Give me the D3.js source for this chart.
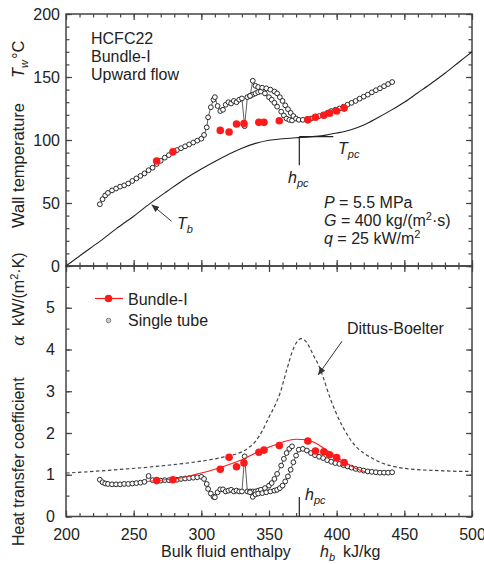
<!DOCTYPE html>
<html><head><meta charset="utf-8">
<script src="https://cdn.jsdelivr.net/npm/d3@7"></script>
<style>
body{margin:0;background:#fff;}
svg{font-family:"Liberation Sans",Arial,Helvetica,sans-serif;}
</style></head><body>
<svg id="c" width="484" height="564"></svg>
<script>
// ---------- DATA ----------
const xTicksMajor = [200,250,300,350,400,450,500];
const yTopTicks = [0,50,100,150,200];
const yBotTicks = [0,1,2,3,4,5];

// bulk temperature curve T_b
const tbH = [200,212,225,237,250,262,275,287,300,310,320,330,340,350,360,370,380,390,400,410,420,430,440,450,460,470,480,490,500];
const tbT = [0,9.5,19.5,29.5,39.5,49.5,59.5,68.5,77,83,88.5,93.5,97.3,99.8,101,101.8,102.5,103.5,105.5,108,112,117.5,123.5,130,137.5,145,153,161.5,170];

// single tube, run 1
const tube1H = [225,227,229,231,234,237,240,243,246,249,252,255,258,261,264,267,270,273,276,279,282,285,288,291,294,297,300,
  302,304,305,307,309,310,312,314,316,318,320,322,324,326,328,330,332,334,336,338,340,342,344,347,350,352,354,356,359,361,363,365,367];
const tube1T = [49,53,56,58,60,61.5,63,64,65.5,67.5,69.5,71.5,73.5,76,78,81,83.5,86,88,90,92,93.5,95,96.5,98,99.5,101,
  104,110,118,126,132,134,127,123,124,128,130,129,131,130,132,133,111,134,135,136,137,138,138.5,137,134,132,129.5,126.5,122.5,119.5,117,116,115.5];
const tube1A = [0.88,0.82,0.79,0.78,0.77,0.77,0.77,0.78,0.78,0.79,0.8,0.81,0.83,0.97,0.87,0.86,0.86,0.87,0.87,0.88,0.88,0.9,0.91,0.92,0.93,0.94,0.95,
  0.9,0.78,0.66,0.55,0.47,0.46,0.58,0.65,0.65,0.6,0.62,0.64,0.6,0.62,0.6,0.6,1.44,0.6,0.6,0.6,0.6,0.62,0.64,0.68,0.74,0.8,0.9,1.02,1.22,1.38,1.52,1.62,1.68];

// single tube, run 2
const tube2H = [336,338,340,342,345,348,351,354,356,358,360,362,364,366,368,370,372,375,378,381,384,387,390,393,396,399,402,405,408,411,414,417,420,423,426,429,432,435,438,441];
const tube2T = [135,147,143,142,141.5,141,140,138.5,137,134,131,127.5,124.5,121.5,119,117,116,116,116.5,117,118,119,120,121.5,123,124,125,126.4,128,129.5,131,132.8,134.4,136,137.8,139.5,141,142.7,144.4,146];
const tube2A = [0.58,0.47,0.53,0.55,0.56,0.58,0.6,0.62,0.64,0.68,0.74,0.84,0.96,1.12,1.3,1.46,1.6,1.62,1.58,1.52,1.47,1.43,1.4,1.35,1.31,1.28,1.26,1.23,1.2,1.17,1.14,1.12,1.1,1.08,1.07,1.06,1.05,1.05,1.05,1.06];

// Bundle-I
const bundleH = [267,279,314,320.5,326,331.5,342.5,346.3,357.6,378.7,384.3,390.5,394.8,400,405.5];
const bundleT = [83.3,90.7,107.6,106.3,112.7,113,114,114,115.3,116,118,119.6,121.3,123,125.3];
const bundleA = [0.86,0.88,1.13,1.42,1.19,1.28,1.54,1.59,1.7,1.81,1.57,1.55,1.48,1.41,1.29];

// Bundle-I fitted line
const fitH = [260,270,280,290,300,310,320,330,340,350,360,370,378,385,392,400,408,415,421];
const fitA = [0.84,0.87,0.9,0.96,1.04,1.13,1.24,1.36,1.52,1.66,1.78,1.85,1.84,1.75,1.6,1.42,1.26,1.14,1.07];

// Dittus-Boelter
const dbH = [200,220,245,270,294,310,320,330,335,340,345,350,355,358,363,368,371,374,377,380,383,387,390,395,400,405,410,415,420,426,432,445,457,475,494,500];
const dbA = [1.04,1.08,1.14,1.21,1.3,1.38,1.45,1.55,1.65,1.8,2.05,2.38,2.7,2.94,3.5,4.02,4.2,4.26,4.2,4.05,3.85,3.6,3.34,2.85,2.45,2.12,1.85,1.65,1.52,1.4,1.3,1.18,1.13,1.1,1.08,1.08];

const hpc = 372.4, Tpc = 102.6;

// ---------- SCALES ----------
const svg = d3.select("#c");
const x = d3.scaleLinear().domain([200,500]).range([66,472]);
const yT = d3.scaleLinear().domain([0,200]).range([266,14]);
const yB = d3.scaleLinear().domain([0,6]).range([516.5,266]);
const zip = (a,b)=>a.map((v,i)=>[v,b[i]]);
const AX = "#444", TXT = "#222";

const defs = svg.append("defs");
defs.append("marker").attr("id","arr").attr("viewBox","0 0 10 10").attr("refX",9).attr("refY",5)
  .attr("markerWidth",8).attr("markerHeight",8).attr("markerUnits","userSpaceOnUse").attr("orient","auto")
  .append("path").attr("d","M0,1 L10,5 L0,9 z").attr("fill","#333");

// ---------- AXES ----------
function ax(gen, tr){
  const g = svg.append("g").attr("transform",tr).call(gen);
  g.select(".domain").remove();
  g.selectAll("line").attr("stroke",AX).attr("stroke-width",1.2);
  g.selectAll("text").attr("fill",TXT).attr("font-size",16).attr("font-family","Liberation Sans, Arial, sans-serif");
  return g;
}
const none = () => "";
const fmt = d3.format("d");
// top panel
ax(d3.axisLeft(yT).tickValues(yTopTicks).tickSize(-6).tickPadding(6).tickFormat(fmt), "translate(66,0)");
ax(d3.axisLeft(yT).tickValues(d3.range(0,201,10)).tickSize(-3.5).tickFormat(none), "translate(66,0)");
ax(d3.axisRight(yT).tickValues(yTopTicks).tickSize(-6).tickFormat(none), "translate(472,0)");
ax(d3.axisRight(yT).tickValues(d3.range(0,201,10)).tickSize(-3.5).tickFormat(none), "translate(472,0)");
ax(d3.axisTop(x).tickValues(xTicksMajor).tickSize(-6).tickFormat(none), "translate(0,14)");
ax(d3.axisTop(x).tickValues(d3.range(200,501,10)).tickSize(-3.5).tickFormat(none), "translate(0,14)");
ax(d3.axisBottom(x).tickValues(xTicksMajor).tickSize(-6).tickFormat(none), "translate(0,266)");
ax(d3.axisBottom(x).tickValues(d3.range(200,501,10)).tickSize(-3.5).tickFormat(none), "translate(0,266)");
// bottom panel
ax(d3.axisLeft(yB).tickValues(yBotTicks).tickSize(-6).tickPadding(11).tickFormat(fmt), "translate(66,0)");
ax(d3.axisLeft(yB).tickValues(d3.range(0,6.01,0.5)).tickSize(-3.5).tickFormat(none), "translate(66,0)");
ax(d3.axisRight(yB).tickValues(yBotTicks.concat([6])).tickSize(-6).tickFormat(none), "translate(472,0)");
ax(d3.axisRight(yB).tickValues(d3.range(0,6.01,0.5)).tickSize(-3.5).tickFormat(none), "translate(472,0)");
ax(d3.axisTop(x).tickValues(xTicksMajor).tickSize(-6).tickFormat(none), "translate(0,266)");
ax(d3.axisTop(x).tickValues(d3.range(200,501,10)).tickSize(-3.5).tickFormat(none), "translate(0,266)");
ax(d3.axisBottom(x).tickValues(xTicksMajor).tickSize(-6).tickPadding(12).tickFormat(fmt), "translate(0,516.5)");
ax(d3.axisBottom(x).tickValues(d3.range(200,501,10)).tickSize(-3.5).tickFormat(none), "translate(0,516.5)");

svg.append("rect").attr("x",66).attr("y",14).attr("width",406).attr("height",252).attr("fill","none").attr("stroke",AX).attr("stroke-width",1.5);
svg.append("rect").attr("x",66).attr("y",266).attr("width",406).attr("height",250.5).attr("fill","none").attr("stroke",AX).attr("stroke-width",1.5);

// ---------- TOP PANEL MARKS ----------
const lineT = d3.line().x(d=>x(d[0])).y(d=>yT(d[1]));
const lineB = d3.line().x(d=>x(d[0])).y(d=>yB(d[1]));

svg.append("path").attr("d", d3.line().x(d=>x(d[0])).y(d=>yT(d[1])).curve(d3.curveMonotoneX)(zip(tbH,tbT)))
  .attr("fill","none").attr("stroke","#222").attr("stroke-width",1.1);

function tube(data, yS, lineGen){
  svg.append("path").attr("d", lineGen(data)).attr("fill","none").attr("stroke","#333").attr("stroke-width",0.8);
  svg.append("g").selectAll("circle").data(data).join("circle")
    .attr("cx",d=>x(d[0])).attr("cy",d=>yS(d[1])).attr("r",2.4)
    .attr("fill","#fff").attr("stroke","#2a2a2a").attr("stroke-width",1);
}
tube(zip(tube1H,tube1T), yT, lineT);
tube(zip(tube2H,tube2T), yT, lineT);
svg.append("g").selectAll("circle").data(zip(bundleH,bundleT)).join("circle")
  .attr("cx",d=>x(d[0])).attr("cy",d=>yT(d[1])).attr("r",3.8).attr("fill","#ff1a1a");

svg.append("line").attr("x1",x(hpc)).attr("x2",x(hpc)).attr("y1",yT(Tpc)).attr("y2",yT(80)).attr("stroke","#222").attr("stroke-width",1.2);
svg.append("line").attr("x1",x(hpc)).attr("x2",x(397.5)).attr("y1",yT(Tpc)).attr("y2",yT(Tpc)).attr("stroke","#222").attr("stroke-width",1.2);

svg.append("line").attr("x1",x(278)).attr("y1",yT(35.5)).attr("x2",x(263.5)).attr("y2",yT(48.5))
  .attr("stroke","#333").attr("stroke-width",1).attr("marker-end","url(#arr)");

// ---------- BOTTOM PANEL MARKS ----------
svg.append("path").attr("d", d3.line().x(d=>x(d[0])).y(d=>yB(d[1])).curve(d3.curveMonotoneX)(zip(dbH,dbA)))
  .attr("fill","none").attr("stroke","#444").attr("stroke-width",1.2).attr("stroke-dasharray","3.5,2.5");
tube(zip(tube1H,tube1A), yB, lineB);
tube(zip(tube2H,tube2A), yB, lineB);
svg.append("path").attr("d", d3.line().x(d=>x(d[0])).y(d=>yB(d[1])).curve(d3.curveMonotoneX)(zip(fitH,fitA)))
  .attr("fill","none").attr("stroke","#ff1a1a").attr("stroke-width",1.1);
svg.append("g").selectAll("circle").data(zip(bundleH,bundleA)).join("circle")
  .attr("cx",d=>x(d[0])).attr("cy",d=>yB(d[1])).attr("r",3.8).attr("fill","#ff1a1a");

svg.append("line").attr("x1",x(hpc)).attr("x2",x(hpc)).attr("y1",yB(0.47)).attr("y2",yB(0)).attr("stroke","#222").attr("stroke-width",1.2);

svg.append("line").attr("x1",x(404)).attr("y1",yB(4.2)).attr("x2",x(386.5)).attr("y2",yB(3.4))
  .attr("stroke","#333").attr("stroke-width",1).attr("marker-end","url(#arr)");

// ---------- TEXT ----------
function txt(xp,yp,s){
  return svg.append("text").attr("x",xp).attr("y",yp).attr("fill",TXT).attr("font-size",16).text(s);
}
txt(91,44,"HCFC22"); txt(91,62,"Bundle-I"); txt(91,80,"Upward flow");

let t1 = svg.append("text").attr("x",324).attr("y",208).attr("fill",TXT).attr("font-size",16);
t1.append("tspan").attr("font-style","italic").text("P");
t1.append("tspan").text(" = 5.5 MPa");
let t2 = svg.append("text").attr("x",324).attr("y",226).attr("fill",TXT).attr("font-size",16);
t2.append("tspan").attr("font-style","italic").text("G");
t2.append("tspan").text(" = 400 kg/(m");
t2.append("tspan").attr("font-size",11).attr("dy",-6).text("2");
t2.append("tspan").attr("dy",6).text("·s)");
let t3 = svg.append("text").attr("x",324).attr("y",244).attr("fill",TXT).attr("font-size",16);
t3.append("tspan").attr("font-style","italic").text("q");
t3.append("tspan").text(" = 25 kW/m");
t3.append("tspan").attr("font-size",11).attr("dy",-6).text("2");

function sub(xp,yp,main,s){
  const t = svg.append("text").attr("x",xp).attr("y",yp).attr("fill",TXT).attr("font-size",16);
  t.append("tspan").attr("font-style","italic").text(main);
  t.append("tspan").attr("font-style","italic").attr("font-size",11).attr("dy",4).text(s);
  return t;
}
sub(177,229,"T","b");
sub(338,154,"T","pc");
sub(288,183,"h","pc");
sub(305,500,"h","pc");

txt(347,334,"Dittus-Boelter");

// legend
svg.append("line").attr("x1",95).attr("x2",123).attr("y1",298.5).attr("y2",298.5).attr("stroke","#ff1a1a").attr("stroke-width",1.2);
svg.append("circle").attr("cx",108.5).attr("cy",298.5).attr("r",3.8).attr("fill","#ff1a1a");
txt(128,304.5,"Bundle-I");
svg.append("circle").attr("cx",108.5).attr("cy",320.5).attr("r",2.3).attr("fill","#ccc").attr("stroke","#777").attr("stroke-width",0.9);
txt(128,326,"Single tube");

// axis titles
let xt = svg.append("text").attr("x",161).attr("y",557).attr("fill",TXT).attr("font-size",16);
xt.append("tspan").text("Bulk fluid enthalpy");
xt.append("tspan").attr("x",320).attr("font-style","italic").text("h");
xt.append("tspan").attr("font-style","italic").attr("font-size",11).attr("dy",4).text("b");
xt.append("tspan").attr("x",343).attr("dy",-4).text("kJ/kg");

let yl1 = svg.append("text").attr("transform","translate(24,228) rotate(-90)").attr("fill",TXT).attr("font-size",16.5);
yl1.append("tspan").attr("x",0).text("Wall temperature");
yl1.append("tspan").attr("x",150).attr("font-style","italic").text("T");
yl1.append("tspan").attr("font-style","italic").attr("font-size",11).attr("dy",4).text("w");
yl1.append("tspan").attr("x",169).attr("dy",-4).text("°C");

let yl2 = svg.append("text").attr("transform","translate(24,546) rotate(-90)").attr("fill",TXT).attr("font-size",16);
yl2.append("tspan").attr("x",0).text("Heat transfer coefficient");
yl2.append("tspan").attr("x",200).attr("font-style","italic").attr("font-family","DejaVu Serif, serif").text("α");
yl2.append("tspan").attr("x",220).text("kW/(m");
yl2.append("tspan").attr("font-size",11).attr("dy",-6).text("2");
yl2.append("tspan").attr("dy",6).text("·K)");
</script>
</body></html>
